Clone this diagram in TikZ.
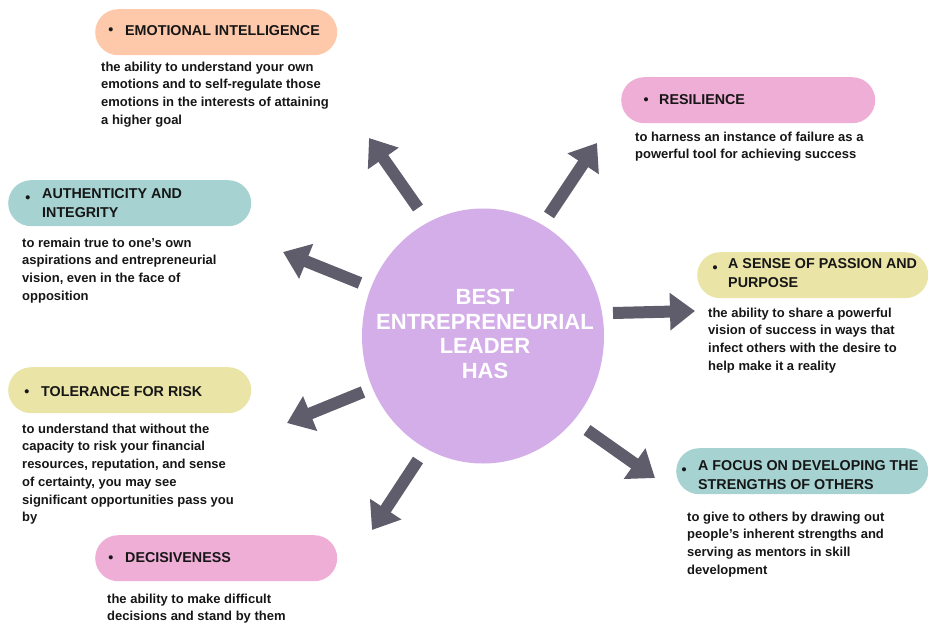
\documentclass[tikz,border=0pt]{standalone}
\usepackage{fontspec}
\setmainfont{Liberation Sans}
\usetikzlibrary{arrows.meta, shapes.geometric}
\definecolor{peach}{HTML}{FDC9AA}
\definecolor{teal}{HTML}{A6D2D1}
\definecolor{rose}{HTML}{EFAED6}
\definecolor{straw}{HTML}{EAE4A7}
\definecolor{lilac}{HTML}{D3AEE8}
\definecolor{slate}{HTML}{5F5C6C}
\definecolor{ink}{HTML}{161616}
\begin{document}
\begin{tikzpicture}[x=1pt, y=-1pt,
  pill/.style={fill=#1, draw=none, rounded corners=23pt, minimum height=46pt, inner sep=0pt, anchor=north west},
  head/.style={anchor=north west, yshift=13.3pt, align=left, inner sep=0pt, text=ink,
    font=\bfseries\fontsize{14.3}{19}\selectfont, execute at begin node=\strut},
  dot/.style={anchor=base, inner sep=0pt, text=ink, font=\bfseries\fontsize{14.3}{19}\selectfont},
  body/.style={anchor=north west, yshift=12.39pt, align=left, inner sep=0pt, text=ink,
    font=\bfseries\fontsize{13}{17.7}\selectfont, execute at begin node=\strut},
  fat/.style={draw=slate, line width=12pt, -{Triangle[length=25pt, width=36pt]}}]
\useasboundingbox (0,0) rectangle (928,626);

% centre
\node[ellipse, fill=lilac, minimum width=242pt, minimum height=255pt, inner sep=0pt] (hub) at (483,336) {};
\node[align=center, text=white, inner sep=0pt, font=\bfseries\fontsize{22}{24.7}\selectfont] (hubtxt) at (485,334)
  {BEST\\ENTREPRENEURIAL\\LEADER\\HAS};

% pills
\node[pill=peach, minimum width=242pt] (emo)     at (95,9)   {};
\node[pill=teal,  minimum width=243pt] (auth)    at (8,180)  {};
\node[pill=rose,  minimum width=254pt] (resil)   at (621,77) {};
\node[pill=straw, minimum width=231pt] (passion) at (697,252) {};
\node[pill=straw, minimum width=243pt] (risk)    at (8,367)  {};
\node[pill=rose,  minimum width=242pt] (decis)   at (95,535) {};
\node[pill=teal,  minimum width=252pt] (focus)   at (676,448) {};

% headings
\node[dot] (emo-b) at (111,35) {\textbullet};
\node[head] (emo-h) at (125,35) {EMOTIONAL INTELLIGENCE};
\node[dot] (auth-b) at (28,202) {\textbullet};
\node[head] (auth-h) at (42,202) {AUTHENTICITY AND\\INTEGRITY};
\node[dot] (resil-b) at (646,104) {\textbullet};
\node[head] (resil-h) at (659,104) {RESILIENCE};
\node[dot] (passion-b) at (715,272) {\textbullet};
\node[head] (passion-h) at (728,272) {A SENSE OF PASSION AND\\PURPOSE};
\node[dot] (risk-b) at (27,396) {\textbullet};
\node[head] (risk-h) at (41,396) {TOLERANCE FOR RISK};
\node[dot] (decis-b) at (111,562) {\textbullet};
\node[head] (decis-h) at (125,562) {DECISIVENESS};
\node[dot] (focus-b) at (684,474) {\textbullet};
\node[head] (focus-h) at (698,474) {A FOCUS ON DEVELOPING THE\\STRENGTHS OF OTHERS};

% descriptions
\node[body] (emo-t) at (101,74) {the ability to understand your own\\emotions and to self-regulate those\\emotions in the interests of attaining\\a higher goal};
\node[body] (auth-t) at (22,250) {to remain true to one’s own\\aspirations and entrepreneurial\\vision, even in the face of\\opposition};
\node[body] (resil-t) at (635,144) {to harness an instance of failure as a\\powerful tool for achieving success};
\node[body] (passion-t) at (708,320) {the ability to share a powerful\\vision of success in ways that\\infect others with the desire to\\help make it a reality};
\node[body] (risk-t) at (22,436) {to understand that without the\\capacity to risk your financial\\resources, reputation, and sense\\of certainty, you may see\\significant opportunities pass you\\by};
\node[body] (decis-t) at (107,606) {the ability to make difficult\\decisions and stand by them};
\node[body] (focus-t) at (687,524) {to give to others by drawing out\\people’s inherent strengths and\\serving as mentors in skill\\development};

% arrow ends
\coordinate (emo-s) at (418,208);     \coordinate (emo-e) at (369,138);
\coordinate (resil-s) at (549,215);   \coordinate (resil-e) at (597,143);
\coordinate (auth-s) at (360,283);    \coordinate (auth-e) at (283,252);
\coordinate (passion-s) at (613,313); \coordinate (passion-e) at (695,311);
\coordinate (risk-s) at (363,392);    \coordinate (risk-e) at (287,423);
\coordinate (decis-s) at (418,460);   \coordinate (decis-e) at (372,530);
\coordinate (focus-s) at (587,430);   \coordinate (focus-e) at (655,478);

\foreach \k in {emo, resil, auth, passion, risk, decis, focus}
  \draw[fat] (\k-s) -- (\k-e);
\end{tikzpicture}
\end{document}
